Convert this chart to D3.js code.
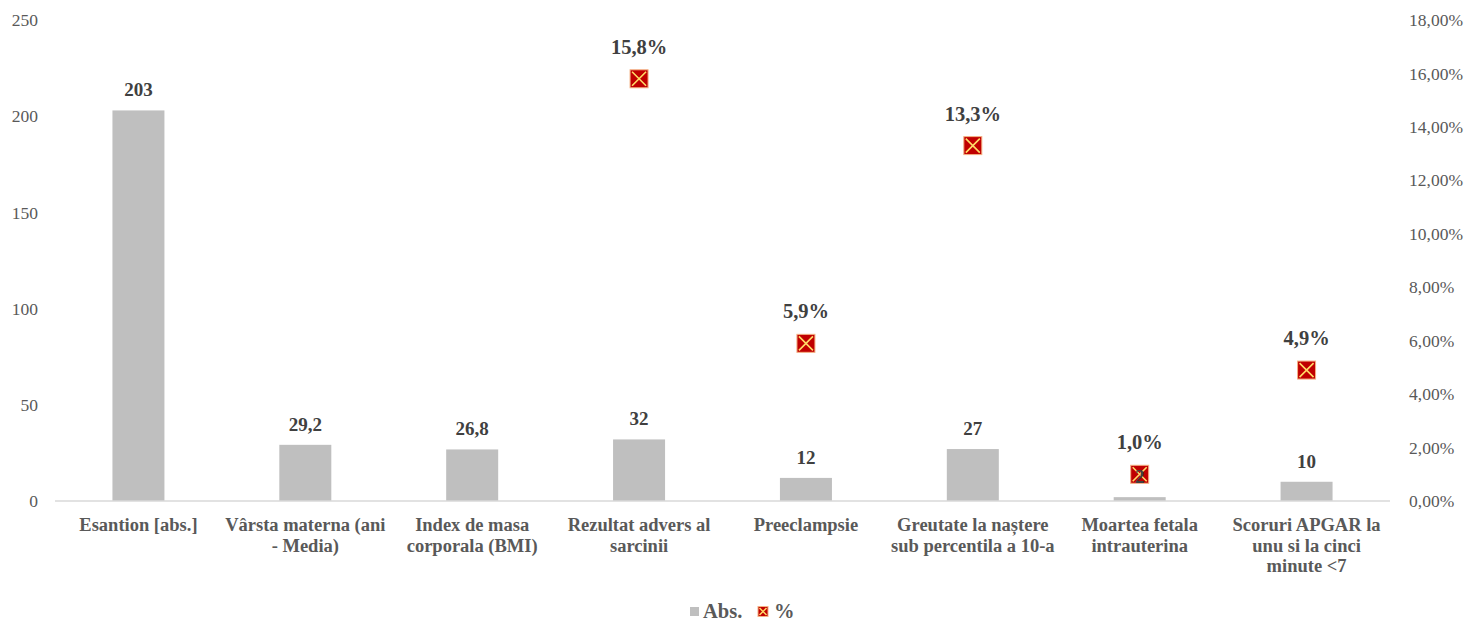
<!DOCTYPE html>
<html>
<head>
<meta charset="utf-8">
<script src="https://cdn.jsdelivr.net/npm/d3@7"></script>
<style>
  body { margin: 0; background: #fff; }
  svg, svg text { font-family: "Liberation Serif", "Times New Roman", serif; }
  .tick text { fill: #595959; font-size: 17.5px; }
  .cat { fill: #595959; font-size: 18.5px; font-weight: bold; }
  .leg { fill: #595959; font-size: 20.5px; font-weight: bold; }
  .lbl { fill: #404040; font-size: 19px; font-weight: bold; }
  .lbl.pct { font-size: 20.5px; }
</style>
</head>
<body>
<div id="chart"></div>
<script>
// data
const categories = [
  ['Esantion [abs.]'],
  ['Vârsta materna (ani', '- Media)'],
  ['Index de masa', 'corporala (BMI)'],
  ['Rezultat advers al', 'sarcinii'],
  ['Preeclampsie'],
  ['Greutate la naștere', 'sub percentila a 10-a'],
  ['Moartea fetala', 'intrauterina'],
  ['Scoruri APGAR la', 'unu si la cinci', 'minute <7']
];
const absValues = [203, 29.2, 26.8, 32, 12, 27, 2, 10];
const absLabels = ['203', '29,2', '26,8', '32', '12', '27', '2', '10'];
const pctValues = [null, null, null, 15.8, 5.9, 13.3, 1.0, 4.9];
const leftTicks = [0, 50, 100, 150, 200, 250];
const rightTicks = [0, 2, 4, 6, 8, 10, 12, 14, 16, 18];

const W = 1471, H = 624;
const margin = {top: 20, right: 81, bottom: 123, left: 55};
const iw = W - margin.left - margin.right;
const ih = H - margin.top - margin.bottom;

const svg = d3.select('#chart').append('svg')
  .attr('width', W)
  .attr('height', H);
const g = svg.append('g')
  .attr('transform', `translate(${margin.left},${margin.top})`);

const x = d3.scaleBand()
  .domain(d3.range(categories.length))
  .range([0, iw]);
const cx = i => x(i) + x.bandwidth() / 2;

const yL = d3.scaleLinear().domain([0, 250]).range([ih, 0]);
const yR = d3.scaleLinear().domain([0, 18]).range([ih, 0]);

// left axis
const axL = g.append('g')
  .call(d3.axisLeft(yL).tickValues(leftTicks).tickSize(0).tickPadding(17));
axL.attr('font-family', null).attr('font-size', null);
axL.select('.domain').remove();

// right axis
const axR = g.append('g')
  .attr('transform', `translate(${iw},0)`)
  .call(d3.axisRight(yR).tickValues(rightTicks).tickSize(0).tickPadding(19)
    .tickFormat(d => d3.format('.2f')(d).replace('.', ',') + '%'));
axR.attr('font-family', null).attr('font-size', null);
axR.select('.domain').remove();

// bars
const bw = 52;
g.selectAll('rect.bar')
  .data(absValues)
  .join('rect')
  .attr('class', 'bar')
  .attr('x', (d, i) => cx(i) - bw / 2)
  .attr('width', bw)
  .attr('y', d => yL(d))
  .attr('height', d => ih - yL(d))
  .attr('fill', '#bfbfbf');

// zero line
g.append('line')
  .attr('x1', 0).attr('x2', iw)
  .attr('y1', ih).attr('y2', ih)
  .attr('stroke', '#d9d9d9')
  .attr('stroke-width', 1.5);

// markers for percentages
const pctData = pctValues.map((v, i) => ({v, i})).filter(d => d.v != null);
const ms = 18;
const mk = g.selectAll('g.mk')
  .data(pctData)
  .join('g')
  .attr('class', 'mk')
  .attr('transform', d => `translate(${cx(d.i)},${yR(d.v)})`);
mk.append('rect')
  .attr('x', -ms / 2).attr('y', -ms / 2)
  .attr('width', ms).attr('height', ms)
  .attr('fill', '#c00000')
  .attr('stroke', '#f4b183')
  .attr('stroke-width', 1);
mk.append('path')
  .attr('d', `M${-ms / 2 + 2},${-ms / 2 + 2}L${ms / 2 - 2},${ms / 2 - 2}M${ms / 2 - 2},${-ms / 2 + 2}L${-ms / 2 + 2},${ms / 2 - 2}`)
  .attr('stroke', '#ffd966')
  .attr('stroke-width', 1.6);

// bar labels
g.selectAll('text.abs')
  .data(absValues)
  .join('text')
  .attr('class', 'lbl abs')
  .attr('x', (d, i) => cx(i))
  .attr('y', d => yL(d) - 14)
  .attr('text-anchor', 'middle')
  .text((d, i) => absLabels[i]);

// pct labels
g.selectAll('text.pct')
  .data(pctData)
  .join('text')
  .attr('class', 'lbl pct')
  .attr('x', d => cx(d.i))
  .attr('y', d => yR(d.v) - 25)
  .attr('text-anchor', 'middle')
  .text(d => d.v.toFixed(1).replace('.', ',') + '%');

// category labels
const cat = g.selectAll('text.cat')
  .data(categories)
  .join('text')
  .attr('class', 'cat')
  .attr('text-anchor', 'middle')
  .attr('x', (d, i) => cx(i))
  .attr('y', ih + 30);
cat.selectAll('tspan')
  .data(d => d)
  .join('tspan')
  .attr('x', function() { return d3.select(this.parentNode).attr('x'); })
  .attr('dy', (d, j) => j === 0 ? 0 : 20.5)
  .text(d => d);

// legend
const lg = svg.append('g').attr('transform', 'translate(0,611)');
lg.append('rect')
  .attr('x', 690).attr('y', -4)
  .attr('width', 9).attr('height', 9)
  .attr('fill', '#bfbfbf');
lg.append('text')
  .attr('class', 'leg')
  .attr('x', 703).attr('y', 6.5)
  .text('Abs.');
const lm = lg.append('g').attr('transform', 'translate(763,0.5)');
lm.append('rect')
  .attr('x', -5).attr('y', -5).attr('width', 10).attr('height', 10)
  .attr('fill', '#c00000').attr('stroke', '#f4b183');
lm.append('path')
  .attr('d', 'M-3.5,-3.5L3.5,3.5M3.5,-3.5L-3.5,3.5')
  .attr('stroke', '#ffd966').attr('stroke-width', 1.5);
lg.append('text')
  .attr('class', 'leg')
  .attr('x', 774).attr('y', 6.5)
  .text('%');
</script>
</body>
</html>
